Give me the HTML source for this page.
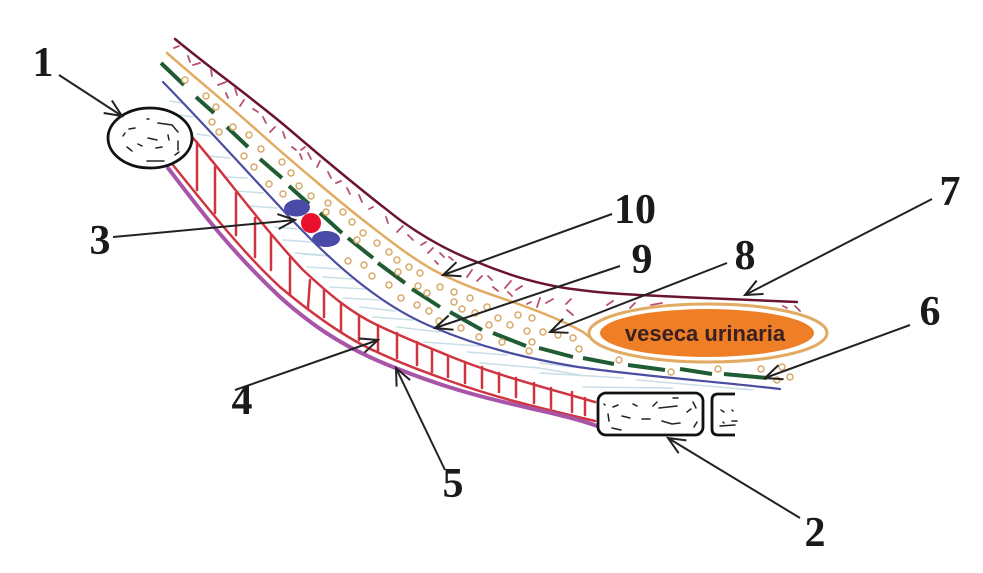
<!DOCTYPE html>
<html><head><meta charset="utf-8"><style>html,body{margin:0;padding:0;background:#fff;width:983px;height:573px;overflow:hidden}svg{display:block}</style></head><body>
<svg width="983" height="573" viewBox="0 0 983 573" xmlns="http://www.w3.org/2000/svg">
<defs><marker id="a" markerUnits="userSpaceOnUse" markerWidth="24" markerHeight="24" refX="20" refY="12" orient="auto"><path d="M3,4.500 L20,12 L3,19.500" fill="none" stroke="#222" stroke-width="2"/></marker></defs>
<g fill="none" stroke-linecap="round" stroke-linejoin="round">
<path stroke="#c8dfe8" stroke-width="1.500" d="M170,101L182,103M180,115L193,117M197,134L210,136M208,156L230,158M227,177L247,178M238,191L263,193M248,206L277,208M275,227L297,229M283,240L313,242M302,254L330,256M295,253L323,255M307,267L340,269M323,277L352,279M330,287L365,289M343,298L380,300M360,307L395,311M373,317L413,320M397,327L440,332M423,342L480,346M467,352L507,355M480,363L540,368M533,367L580,375M540,363L573,367M540,373L623,378M583,387L673,388M637,380L753,390"/>
<path stroke="#6b1530" stroke-width="2.500" d="M175,39C215,72 255,100 290,130S370,197 400,220C425,238 450,252 477,262C510,276 545,286 580,290C610,294 640,295 680,297L797,302"/>
<path stroke="#e2ab63" stroke-width="2.500" d="M167,53C200,82 230,106 260,133S340,202 363,220C395,245 420,264 443,275C470,288 490,294 507,300C535,310 560,319 583,332L600,345"/>
<path stroke="#4a4da0" stroke-width="2.200" d="M163,82C205,125 250,175 295,223C340,270 385,308 435,328C480,347 525,358 578,367C640,376 710,381 780,389"/>
<path stroke="#cf3540" stroke-width="2.500" d="M193,138C225,175 265,230 303,270C330,295 350,312 377,325C405,338 425,346 447,355C490,373 535,385 595,402M173,165C205,205 245,255 280,287C310,312 345,338 377,352C405,365 425,372 447,380C490,396 535,407 595,421"/>
<path stroke="#cf3540" stroke-width="2.500" d="M197,142V190M215,167V213M236,193V235M255,218V257M271,235V270M290,258V295M310,280L308,308M324,290V317M341,303V332M359,315V340M378,325V352M397,333V358M417,342V365M432,349V372M448,356V377M465,362V383M482,367V388M499,373V392M516,378V397M534,383V403M551,388V408M572,392V412M585,398V415"/>
<path stroke="#a855a8" stroke-width="4" d="M168,168C200,210 230,250 280,297C320,333 355,352 393,367C440,386 480,397 525,407C550,413 575,418 597,426"/>
<path stroke="#1f5c33" stroke-width="4" stroke-linecap="butt" d="M161,63L184,85M196,97L214,113M227,127L248,147M260,159L282,178M289,186L309,204M320,213L342,233M348,238L373,258M378,263L405,283M412,289L440,307M450,312L482,330M493,333L526,346M539,348L573,357M583,358L614,364M628,365L665,370M680,369L712,374M724,374L767,378"/>
<path stroke="#b8506e" stroke-width="1.800" d="M174,48L179,46M188,56L190,62M193,65L200,63M211,70L212,76M218,85L226,82M235,88L237,95M226,93L228,98M240,106L244,100M253,109L258,112M263,117L266,123M270,132L275,127M283,132L285,138M292,147L296,150M300,154L302,159M301,150L305,147M308,153L311,159M317,167L320,161M328,172L331,178M336,183L341,181M347,188L350,194M359,195L362,202M369,209L373,207M386,217L388,223M397,232L403,226M408,235L413,240M421,245L426,242M428,253L433,248M440,253L444,257M449,257L453,260M435,261L438,264M467,277L472,270M477,281L482,276M488,276L492,280M493,287L498,291M505,288L511,281M508,292L512,296M516,290L522,286M527,304L531,302M537,307L540,298M546,303L553,299M566,304L571,299M567,310L573,315M630,308L635,303M651,305L662,303M607,305L613,301M783,306L787,308M795,306L800,311"/>
</g>
<g fill="#fff" stroke="#d8aa68" stroke-width="1.500">
<circle cx="185" cy="80" r="3"/><circle cx="206" cy="96" r="3"/><circle cx="216" cy="107" r="3"/><circle cx="212" cy="122" r="3"/><circle cx="219" cy="132" r="3"/><circle cx="233" cy="127" r="3"/><circle cx="249" cy="135" r="3"/><circle cx="261" cy="149" r="3"/><circle cx="244" cy="156" r="3"/><circle cx="282" cy="162" r="3"/><circle cx="254" cy="167" r="3"/><circle cx="291" cy="173" r="3"/><circle cx="269" cy="184" r="3"/><circle cx="299" cy="186" r="3"/><circle cx="283" cy="194" r="3"/><circle cx="311" cy="196" r="3"/><circle cx="328" cy="203" r="3"/><circle cx="326" cy="212" r="3"/><circle cx="343" cy="212" r="3"/><circle cx="352" cy="222" r="3"/><circle cx="363" cy="233" r="3"/><circle cx="377" cy="243" r="3"/><circle cx="348" cy="261" r="3"/><circle cx="364" cy="265" r="3"/><circle cx="389" cy="252" r="3"/><circle cx="357" cy="240" r="3"/><circle cx="397" cy="260" r="3"/><circle cx="409" cy="267" r="3"/><circle cx="372" cy="276" r="3"/><circle cx="398" cy="272" r="3"/><circle cx="420" cy="273" r="3"/><circle cx="389" cy="285" r="3"/><circle cx="418" cy="286" r="3"/><circle cx="440" cy="287" r="3"/><circle cx="427" cy="293" r="3"/><circle cx="454" cy="292" r="3"/><circle cx="401" cy="298" r="3"/><circle cx="470" cy="298" r="3"/><circle cx="454" cy="302" r="3"/><circle cx="417" cy="305" r="3"/><circle cx="487" cy="307" r="3"/><circle cx="462" cy="309" r="3"/><circle cx="429" cy="311" r="3"/><circle cx="475" cy="313" r="3"/><circle cx="518" cy="315" r="3"/><circle cx="532" cy="318" r="3"/><circle cx="498" cy="318" r="3"/><circle cx="439" cy="321" r="3"/><circle cx="489" cy="325" r="3"/><circle cx="510" cy="325" r="3"/><circle cx="461" cy="328" r="3"/><circle cx="527" cy="331" r="3"/><circle cx="543" cy="332" r="3"/><circle cx="558" cy="335" r="3"/><circle cx="573" cy="338" r="3"/><circle cx="479" cy="337" r="3"/><circle cx="502" cy="342" r="3"/><circle cx="532" cy="342" r="3"/><circle cx="529" cy="351" r="3"/><circle cx="579" cy="349" r="3"/><circle cx="619" cy="360" r="3"/><circle cx="671" cy="372" r="3"/><circle cx="718" cy="369" r="3"/><circle cx="761" cy="369" r="3"/><circle cx="782" cy="367" r="3"/><circle cx="777" cy="380" r="3"/><circle cx="790" cy="377" r="3"/>
</g>
<ellipse cx="297" cy="208" rx="13" ry="8.500" fill="#4a4aa8" transform="rotate(-4 297 208)"/>
<ellipse cx="326" cy="239" rx="14" ry="8" fill="#4a4aa8"/>
<circle cx="311" cy="223" r="10" fill="#e8102a"/>
<ellipse cx="708" cy="333" rx="119" ry="29" fill="#fff" stroke="#e2ab63" stroke-width="3"/>
<ellipse cx="707" cy="333" rx="107" ry="24" fill="#ee7f26"/>
<text x="705" y="341" font-family="Liberation Sans, sans-serif" font-weight="700" font-size="22" fill="#3a2020" text-anchor="middle">veseca urinaria</text>
<ellipse cx="150" cy="138" rx="42" ry="30" fill="#fff" stroke="#111" stroke-width="2.800"/>
<rect x="598" y="393" width="105" height="42" rx="8" fill="#fff" stroke="#111" stroke-width="2.800"/>
<path d="M735,394H718Q712,394 712,400V429Q712,435 718,435H735" fill="#fff" stroke="#111" stroke-width="2.800"/>
<path fill="none" stroke="#222" stroke-width="1.500" stroke-linecap="round" d="M129,129L135,128M123,136L125,133M158,123L172,125L178,132M147,119L149,119M148,138L157,140M168,135L169,140M178,141L178,150M127,147L132,151M138,144L142,146M156,148L162,147M147,161L164,161M175,155L179,152M604,404L605,405M613,407L618,405M633,404L637,406M653,406L657,402M659,408L677,406M673,398L678,398M693,402L696,408M687,412L691,409M608,414L609,421M622,416L630,418M642,419L650,419M662,421L672,424L680,423M694,427L697,422M612,428L621,430M721,410L724,412M732,410L733,411M732,421L737,421M720,426L735,425M723,422L724,423"/>
<g stroke="#222" stroke-width="2" fill="none">
<path d="M59,75L122,116" marker-end="url(#a)"/>
<path d="M113,237L295,220" marker-end="url(#a)"/>
<path d="M612,214L443,275" marker-end="url(#a)"/>
<path d="M620,266L435,328" marker-end="url(#a)"/>
<path d="M727,263L550,332" marker-end="url(#a)"/>
<path d="M932,199L745,295" marker-end="url(#a)"/>
<path d="M910,325L765,378" marker-end="url(#a)"/>
<path d="M235,390L378,340" marker-end="url(#a)"/>
<path d="M445,470L396,368" marker-end="url(#a)"/>
<path d="M800,518L668,438" marker-end="url(#a)"/>
</g>
<g font-family="Liberation Serif, serif" font-weight="700" font-size="42" fill="#1a1a1a" text-anchor="middle">
<text x="43" y="76">1</text><text x="815" y="546">2</text><text x="100" y="254">3</text><text x="242" y="414">4</text><text x="453" y="497">5</text><text x="930" y="325">6</text><text x="950" y="205">7</text><text x="745" y="269">8</text><text x="642" y="273">9</text><text x="635" y="223">10</text>
</g>
</svg>
</body></html>
